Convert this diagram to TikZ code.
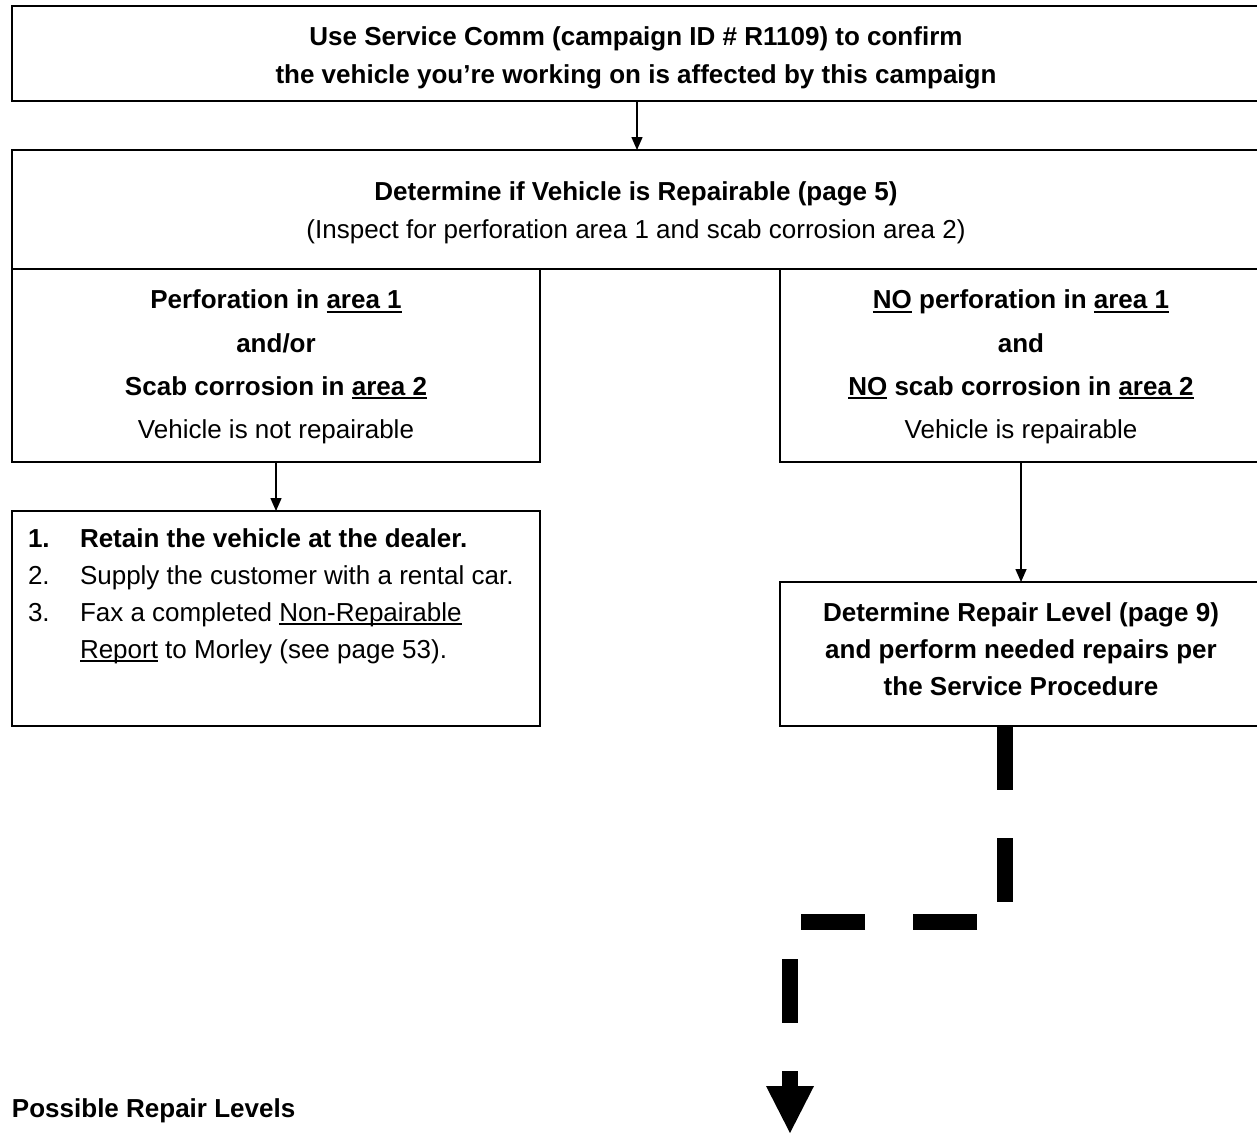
\documentclass[tikz,border=0pt]{standalone}
\usepackage{fontspec}
\setmainfont{Liberation Sans}
\usetikzlibrary{arrows.meta}
\newcommand{\uln}[1]{\setbox0\hbox{#1}\rlap{\rule[-4pt]{\wd0}{2.2pt}}\box0\relax}
\begin{document}
\begin{tikzpicture}[x=1pt,y=-1pt,
  box/.style={draw, line width=1.8pt, inner sep=0pt, outer sep=0pt, anchor=north west},
  txt/.style={inner sep=0pt, outer sep=0pt, align=center},
  arr/.style={line width=1.5pt, -{Triangle[width=11pt,length=13pt]}},
  bigdash/.style={line width=16pt, dash pattern=on 64pt off 48pt, -{Triangle[width=48pt,length=47pt,line width=0pt]}},
  font=\fontsize{26}{38}\selectfont]
\fill[white] (0,0) rectangle (1257,1133);
\useasboundingbox (0,0) rectangle (1257,1133);

% boxes
\node[box, minimum width=1250pt, minimum height=95pt] (top) at (12,6) {};
\node[box, minimum width=1250pt, minimum height=119pt] (det) at (12,150) {};
\node[box, minimum width=528pt, minimum height=193pt] (lb) at (12,269) {};
\node[box, minimum width=482pt, minimum height=193pt] (rb) at (780,269) {};
\node[box, minimum width=528pt, minimum height=215pt] (lst) at (12,511) {};
\node[box, minimum width=482pt, minimum height=144pt] (rb2) at (780,582) {};

% texts
\node[txt] (ttop) at (636,58) {\bfseries Use Service Comm (campaign ID \# R1109) to confirm\\ \bfseries the vehicle you’re working on is affected by this campaign};
\node[txt] (tdet) at (636,213) {\bfseries Determine if Vehicle is Repairable (page 5)\\ (Inspect for perforation area 1 and scab corrosion area 2)};
\node[txt, font=\fontsize{26}{43.3}\selectfont] (tlb) at (276,367) {\bfseries Perforation in \uln{area 1}\\ \bfseries and/or\\ \bfseries Scab corrosion in \uln{area 2}\\ Vehicle is not repairable};
\node[txt, font=\fontsize{26}{43.3}\selectfont] (trb) at (1021,367) {\bfseries \uln{NO} perforation in \uln{area 1}\\ \bfseries and\\ \bfseries \uln{NO} scab corrosion in \uln{area 2}\\ Vehicle is repairable};
\node[txt, align=left, anchor=west, font=\fontsize{26}{37}\selectfont] (tlst) at (28,596) {\bfseries\makebox[52pt][l]{1.}Retain the vehicle at the dealer.\\ \makebox[52pt][l]{2.}Supply the customer with a rental car.\\ \makebox[52pt][l]{3.}Fax a completed \uln{Non-Repairable}\\ \hspace*{52pt}\uln{Report} to Morley (see page 53).};
\node[txt, font=\fontsize{26}{37}\selectfont\bfseries] (trb2) at (1021,649) {Determine Repair Level (page 9)\\ and perform needed repairs per\\ the Service Procedure};
\node[txt, anchor=base west, font=\fontsize{26}{38}\selectfont\bfseries] (poss) at (12,1117) {Possible Repair Levels};

% connectors
\coordinate (bend) at (790,922);
\coordinate (tip) at (790,1133);
\draw[arr] (top.south) -- (det.north -| top.south);
\draw[arr] (lb.south) -- (lst.north);
\draw[arr] (rb.south) -- (rb2.north);
\draw[bigdash] (rb2.south west) ++(225,0) |- (bend) -- (tip);
\end{tikzpicture}
\end{document}
